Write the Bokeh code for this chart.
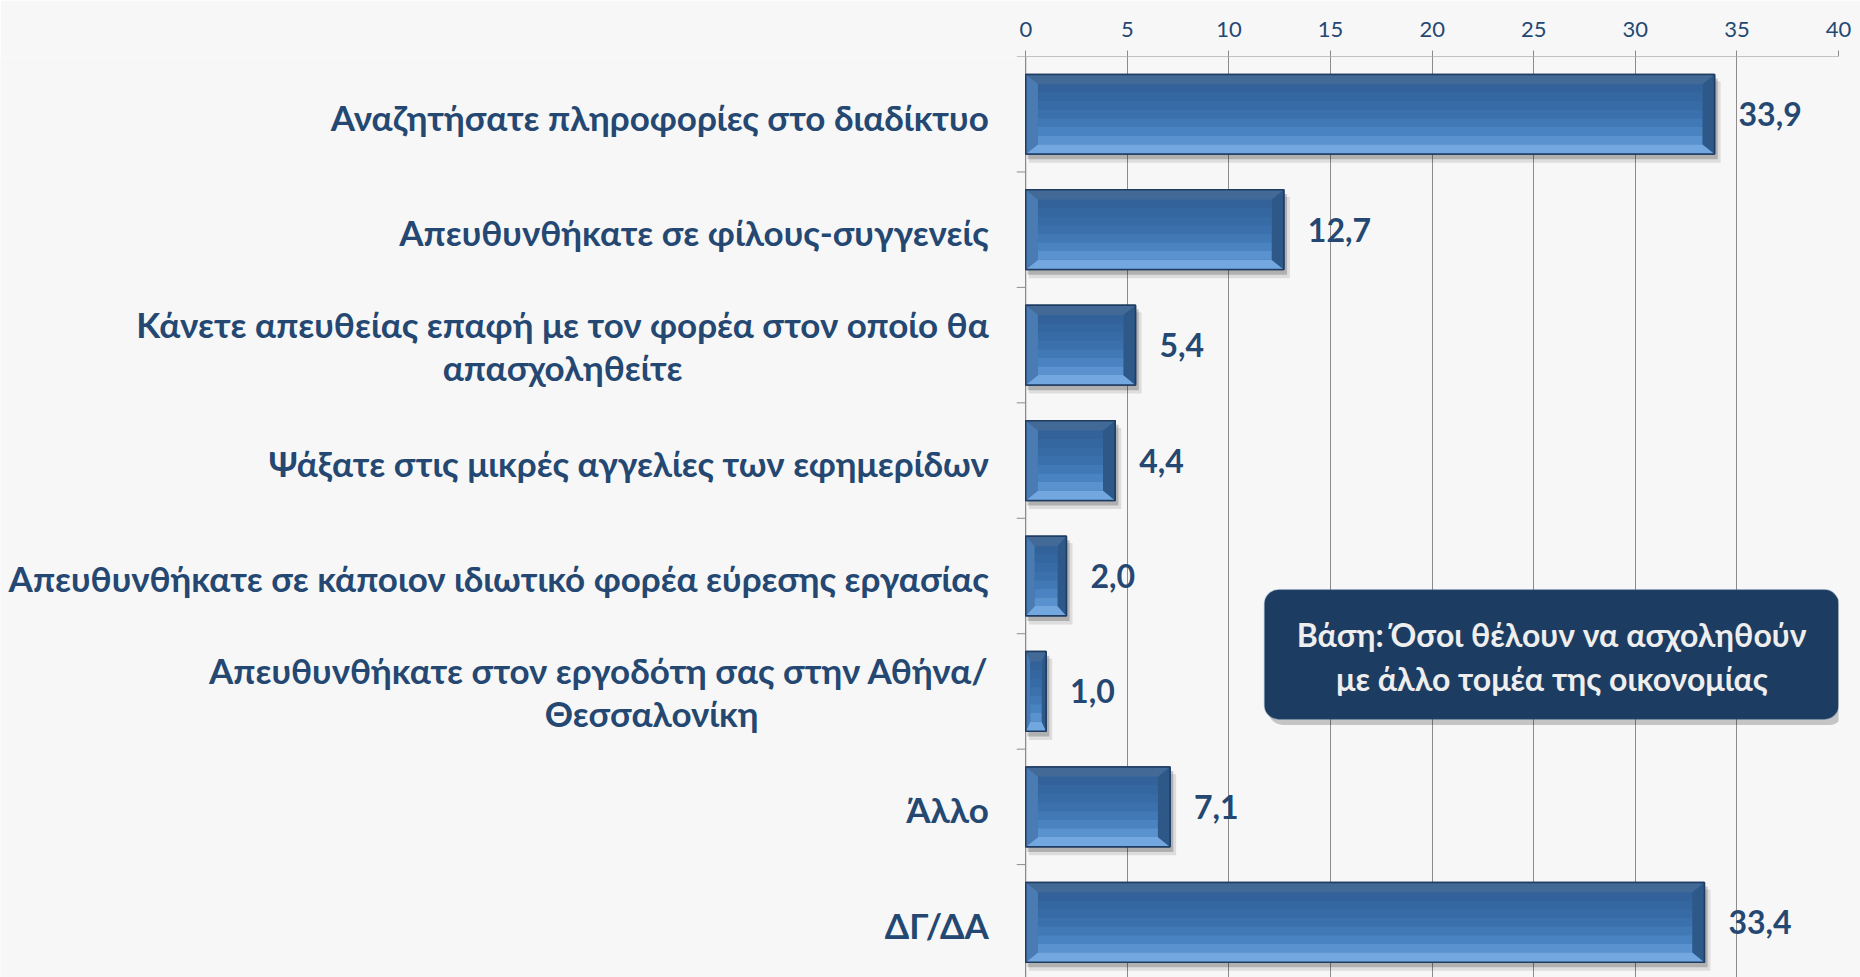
from bokeh.plotting import figure
from bokeh.models import Range1d, FixedTicker, BoxAnnotation, Label, ColumnDataSource
from bokeh.core.properties import value
from bokeh.embed import file_html
from bokeh.resources import INLINE

categories = [
    ["Αναζητήσατε πληροφορίες στο διαδίκτυο"],
    ["Απευθυνθήκατε σε φίλους-συγγενείς"],
    ["Κάνετε απευθείας επαφή με τον φορέα στον οποίο θα", "απασχοληθείτε"],
    ["Ψάξατε στις μικρές αγγελίες των εφημερίδων"],
    ["Απευθυνθήκατε σε κάποιον ιδιωτικό φορέα εύρεσης εργασίας"],
    ["Απευθυνθήκατε στον εργοδότη σας στην Αθήνα/", "Θεσσαλονίκη"],
    ["Άλλο"],
    ["ΔΓ/ΔΑ"],
]
values = [33.9, 12.7, 5.4, 4.4, 2.0, 1.0, 7.1, 33.4]
x_ticks = [0, 5, 10, 15, 20, 25, 30, 35, 40]
note_lines = ["Βάση: Όσοι θέλουν να ασχοληθούν", "με άλλο τομέα της οικονομίας"]

BG = "#f7f7f7"
TXT = "#244872"
GRID = "#8c8c8c"
FONT = "Lato"

# plot area spans the whole width; the value axis starts 1025 px from the left
px_unit = 20.3125
x_start = -1025 / px_unit
n = len(categories)

p = figure(width=1860, height=977, output_backend="svg", toolbar_location=None,
           x_axis_location="above", y_axis_location=None,
           x_range=Range1d(x_start, 40), y_range=Range1d(7.478, -0.5),
           background_fill_color=BG, border_fill_color=BG,
           min_border_left=0, min_border_right=22, min_border_top=56, min_border_bottom=0)
p.outline_line_color = None

# x axis (top)
p.xaxis.ticker = FixedTicker(ticks=x_ticks, minor_ticks=[])
p.xaxis.major_label_text_font = FONT
p.xaxis.major_label_text_font_size = "22px"
p.xaxis.major_label_text_color = TXT
p.xaxis.major_label_standoff = 14
p.xaxis.major_tick_out = 6
p.xaxis.major_tick_in = 0
p.xaxis.major_tick_line_color = GRID
p.xaxis.axis_line_color = None
p.xgrid.ticker = FixedTicker(ticks=x_ticks)
p.xgrid.grid_line_color = GRID
p.ygrid.grid_line_color = None

# axis lines and category boundary ticks
tick_len = 9 / px_unit
p.segment(x0=[0], y0=[-0.5], x1=[40], y1=[-0.5], line_color=GRID, line_width=1)
p.segment(x0=[0], y0=[-0.5], x1=[0], y1=[n - 0.5], line_color=GRID, line_width=1)
bounds = [i - 0.5 for i in range(n + 1)]
p.segment(x0=[-tick_len] * len(bounds), y0=bounds, x1=[0] * len(bounds), y1=bounds,
          line_color=GRID, line_width=1)

# category labels
label_right = (988 - 1025) / px_unit
second_line_centers = {2: (562 - 1025) / px_unit, 5: (651 - 1025) / px_unit}
rx, ry, rt, cx, cy, ct = [], [], [], [], [], []
for i, lines in enumerate(categories):
    if len(lines) == 1:
        rx.append(label_right); ry.append(i + 0.02); rt.append(lines[0])
    else:
        rx.append(label_right); ry.append(i - 0.185); rt.append(lines[0])
        cx.append(second_line_centers[i]); cy.append(i + 0.19); ct.append(lines[1])
p.text(x=rx, y=ry, text=rt, text_align="right", text_baseline="middle",
       text_font=value(FONT), text_font_style="bold", text_font_size="35px", text_color=TXT)
p.text(x=cx, y=cy, text=ct, text_align="center", text_baseline="middle",
       text_font=value(FONT), text_font_style="bold", text_font_size="35px", text_color=TXT)

# bars with bevel
ys = list(range(n))
h = 0.345
by = 0.085
bxs = [min(0.6, 0.22 * v) for v in values]
tops = [y - h for y in ys]
bots = [y + h for y in ys]

# shadow
p.quad(left=[0.15] * n, right=[v + 0.3 for v in values], top=[t + 0.06 for t in tops],
       bottom=[b + 0.075 for b in bots], fill_color="#000000", fill_alpha=0.10, line_color=None)
p.quad(left=[0.08] * n, right=[v + 0.16 for v in values], top=[t + 0.035 for t in tops],
       bottom=[b + 0.045 for b in bots], fill_color="#000000", fill_alpha=0.2, line_color=None)
# base
p.quad(left=[0] * n, right=values, top=tops, bottom=bots,
       fill_color="#3b6ea6", line_color="#1f3d62", line_width=1.5)
# bevel trapezoids
top_x = [[0, v, v - bx, bx] for v, bx in zip(values, bxs)]
top_y = [[t, t, t + by, t + by] for t in tops]
p.patches(top_x, top_y, fill_color="#436a96", line_color=None)
bot_y = [[b, b, b - by, b - by] for b in bots]
p.patches(top_x, bot_y, fill_color="#72a7e0", line_color=None)
left_x = [[0, bx, bx, 0] for bx in bxs]
side_y = [[t, t + by, b - by, b] for t, b in zip(tops, bots)]
p.patches(left_x, side_y, fill_color="#4a7cb3", line_color=None)
right_x = [[v, v - bx, v - bx, v] for v, bx in zip(values, bxs)]
p.patches(right_x, side_y, fill_color="#2d5888", line_color=None)
# center gradient bands
band_cols = ["#33619a", "#3466a0", "#376ba6", "#3a70ab", "#4079b5", "#4a83c1", "#5a92cf"]
nb = len(band_cols)
for k, col in enumerate(band_cols):
    p.quad(left=bxs, right=[v - bx for v, bx in zip(values, bxs)],
           top=[t + by + (b - t - 2 * by) * k / nb for t, b in zip(tops, bots)],
           bottom=[t + by + (b - t - 2 * by) * (k + 1) / nb for t, b in zip(tops, bots)],
           fill_color=col, line_color=None)
# dark outline on top
p.quad(left=[0] * n, right=values, top=tops, bottom=bots,
       fill_color=None, line_color="#1f3d62", line_width=1.5)

# value labels
src = ColumnDataSource(dict(x=values, y=ys, t=[f"{v:.1f}".replace(".", ",") for v in values]))
p.text(x="x", y="y", text="t", source=src, x_offset=24, text_align="left", text_baseline="middle",
       text_font=value(FONT), text_font_style="bold", text_font_size="32px", text_color=TXT)

# note box
p.add_layout(BoxAnnotation(left=11.95, right=40.25, top=4.17, bottom=5.29,
                           fill_color="#000000", fill_alpha=0.2, line_color=None, border_radius=14))
p.add_layout(BoxAnnotation(left=11.75, right=40.0, top=4.12, bottom=5.24,
                           fill_color="#1c3c62", fill_alpha=1.0, line_color="#2c5580",
                           line_width=1.5, border_radius=14))
for yy, line in zip([4.507, 4.888], note_lines):
    p.add_layout(Label(x=25.9, y=yy, text=line, text_align="center", text_baseline="middle",
                       text_font=FONT, text_font_style="bold", text_font_size="32px",
                       text_color="#eeeeee"))

open("out.html", "w").write(file_html(p, INLINE))
